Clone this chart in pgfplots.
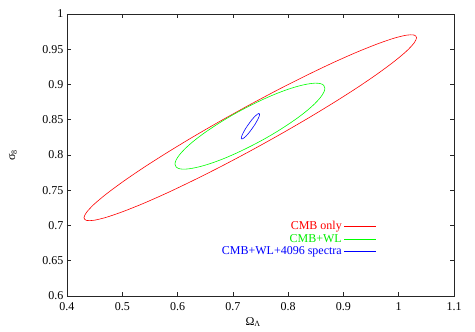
\documentclass[border=0pt]{standalone}
\usepackage{pgfplots}
\pgfplotsset{compat=1.18}
\usepackage{fontspec}
\setmainfont{Liberation Serif}
\newfontfamily\redfont[Color=FF0000]{Liberation Serif}
\newfontfamily\greenfont[Color=00EE00]{Liberation Serif}
\newfontfamily\bluefont[Color=0000FF]{Liberation Serif}
\begin{document}
\begin{tikzpicture}
\useasboundingbox (0pt,0pt) rectangle (475pt,332pt);
\begin{axis}[
  at={(67pt,36pt)}, anchor=south west,
  scale only axis, width=387pt, height=282pt,
  xmin=0.4, xmax=1.1, ymin=0.6, ymax=1,
  xtick={0.4,0.5,...,1.1}, ytick={0.6,0.65,...,1.0},
  /pgf/number format/assume math mode=true,
  /pgf/number format/fixed,
  tick label style={font=\fontsize{12}{14}\selectfont},
  xticklabel style={yshift=-3pt},
  label style={font=\fontsize{12}{14}\selectfont},
  axis line style={line width=0.6pt, black!85},
  major tick style={line width=0.6pt, black!85},
  xlabel={Ω\textsubscript{Λ}},
  ylabel={σ\textsubscript{8}},
  xlabel style={at={(axis description cs:0.481,0)}, anchor=center, yshift=-26pt},
  ylabel style={at={(axis description cs:-0.1395,0.5)}, anchor=center},
  legend plot pos=right,
  legend cell align=right,
  legend image code/.code={\draw[line width=0.6pt,#1] (0pt,0pt) -- (32pt,0pt);},
  legend style={draw=none, fill=none, at={(0.80,0.272)}, anchor=north east,
    font=\fontsize{12}{12}\selectfont, row sep=-1pt, inner sep=0pt},
]
\addplot[color=red, line width=0.6pt, smooth] coordinates {
(0.7315,0.8717) (0.6793,0.8490) (0.6286,0.8260) (0.5811,0.8034) (0.5381,0.7819) (0.5011,0.7621) (0.4710,0.7446) (0.4488,0.7300) (0.4353,0.7186) (0.4307,0.7110) (0.4353,0.7072) (0.4488,0.7074) (0.4710,0.7116) (0.5011,0.7197) (0.5381,0.7313) (0.5811,0.7462) (0.6286,0.7640) (0.6793,0.7840) (0.7315,0.8057) (0.7837,0.8284) (0.8344,0.8514) (0.8819,0.8740) (0.9249,0.8955) (0.9619,0.9153) (0.9920,0.9328) (1.0142,0.9474) (1.0277,0.9588) (1.0323,0.9664) (1.0277,0.9702) (1.0142,0.9700) (0.9920,0.9658) (0.9619,0.9577) (0.9249,0.9461) (0.8819,0.9312) (0.8344,0.9134) (0.7837,0.8934) (0.7315,0.8717)
};
\addlegendentry{\redfont\fontsize{12}{12}\selectfont CMB only}
\addplot[color=green, line width=0.6pt, smooth] coordinates {
(0.7309,0.8699) (0.7074,0.8602) (0.6845,0.8498) (0.6631,0.8391) (0.6437,0.8286) (0.6270,0.8184) (0.6135,0.8089) (0.6035,0.8003) (0.5974,0.7930) (0.5953,0.7872) (0.5974,0.7830) (0.6035,0.7805) (0.6135,0.7799) (0.6270,0.7812) (0.6437,0.7842) (0.6631,0.7889) (0.6845,0.7952) (0.7074,0.8030) (0.7309,0.8119) (0.7544,0.8216) (0.7773,0.8320) (0.7987,0.8427) (0.8181,0.8532) (0.8348,0.8634) (0.8483,0.8729) (0.8583,0.8815) (0.8644,0.8888) (0.8665,0.8946) (0.8644,0.8988) (0.8583,0.9013) (0.8483,0.9019) (0.8348,0.9006) (0.8181,0.8976) (0.7987,0.8929) (0.7773,0.8866) (0.7544,0.8788) (0.7309,0.8699)
};
\addlegendentry{\greenfont\fontsize{12}{12}\selectfont CMB+WL}
\addplot[color=blue, line width=0.6pt, smooth] coordinates {
(0.7404,0.8439) (0.7350,0.8377) (0.7293,0.8317) (0.7239,0.8269) (0.7194,0.8238) (0.7164,0.8227) (0.7152,0.8238) (0.7161,0.8269) (0.7189,0.8317) (0.7232,0.8377) (0.7286,0.8439) (0.7343,0.8499) (0.7397,0.8547) (0.7442,0.8578) (0.7472,0.8589) (0.7484,0.8578) (0.7475,0.8547) (0.7447,0.8499) (0.7404,0.8439)
};
\addlegendentry{\bluefont\fontsize{12}{12}\selectfont CMB+WL+4096 spectra}
\end{axis}
\end{tikzpicture}
\end{document}
